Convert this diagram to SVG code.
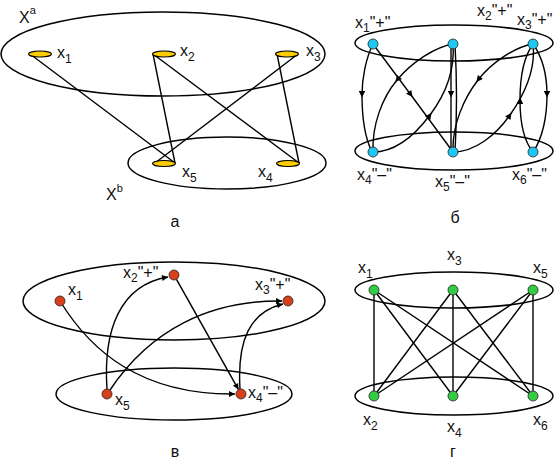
<svg xmlns="http://www.w3.org/2000/svg" width="560" height="461" viewBox="0 0 560 461">
<style>
.t{font-family:"Liberation Sans",Arial,sans-serif;font-size:16px;fill:#111}
.s{font-size:12px}
.sup{font-size:11px}
.set{fill:none;stroke:#000;stroke-width:1.5}
.e{fill:none;stroke:#000;stroke-width:1.4}
.ny{fill:#FFCC00;stroke:#000;stroke-width:1.1}
.nb{fill:#1EC8F5;stroke:#222;stroke-width:0.8}
.nr{fill:#D8401C;stroke:#222;stroke-width:0.8}
.ng{fill:#33CC44;stroke:#222;stroke-width:0.8}
</style>
<defs>
<marker id="ae" viewBox="0 0 10 10" refX="10" refY="5" markerWidth="9" markerHeight="6" markerUnits="userSpaceOnUse" orient="auto"><path d="M0,0 L10,5 L0,10 z" fill="#000"/></marker>
<marker id="am" viewBox="0 0 10 10" refX="6" refY="5" markerWidth="9" markerHeight="6.5" markerUnits="userSpaceOnUse" orient="auto"><path d="M0,0 L10,5 L0,10 z" fill="#000"/></marker>
</defs>

<!-- Panel a -->
<g id="panel-a">
<ellipse id="set-Xa" class="set" cx="163" cy="54" rx="162" ry="42"/>
<ellipse id="set-Xb" class="set" cx="227" cy="163" rx="99" ry="26"/>
<g id="connectors-a">
<line class="e" x1="30" y1="54" x2="175" y2="163"/>
<line class="e" x1="153" y1="54" x2="175" y2="163"/>
<line class="e" x1="153" y1="54" x2="299" y2="163"/>
<line class="e" x1="298" y1="54" x2="155" y2="163"/>
<line class="e" x1="277" y1="54" x2="299" y2="163"/>
</g>
<g id="a-x1"><ellipse class="ny" cx="40" cy="54" rx="11.5" ry="3"/><text class="t" x="57" y="58">x<tspan class="s" dy="5">1</tspan></text></g>
<g id="a-x2"><ellipse class="ny" cx="164" cy="54" rx="11.5" ry="3"/><text class="t" x="180" y="56">x<tspan class="s" dy="5">2</tspan></text></g>
<g id="a-x3"><ellipse class="ny" cx="287" cy="54" rx="11.5" ry="3"/><text class="t" x="306" y="56">x<tspan class="s" dy="5">3</tspan></text></g>
<g id="a-x5"><ellipse class="ny" cx="164" cy="163.5" rx="11.5" ry="3"/><text class="t" x="182" y="177">x<tspan class="s" dy="5">5</tspan></text></g>
<g id="a-x4"><ellipse class="ny" cx="288" cy="163.5" rx="11.5" ry="3"/><text class="t" x="258" y="177">x<tspan class="s" dy="5">4</tspan></text></g>
<text class="t" x="19" y="23">X<tspan class="sup" dy="-9">a</tspan></text>
<text class="t" x="106" y="200">X<tspan class="sup" dy="-8">b</tspan></text>
<text class="t" x="175" y="227" text-anchor="middle">а</text>
</g>

<!-- Panel b -->
<g id="panel-b">
<ellipse class="set" cx="454" cy="43" rx="99" ry="18"/>
<ellipse class="set" cx="454" cy="151" rx="99" ry="19"/>
<g id="connectors-b">
<path class="e" marker-mid="url(#am)" d="M373,44 C366,58 362,78 362,95 C362,115 365,138 372,152"/>
<path class="e" marker-mid="url(#am)" d="M373,44 L411,95 L453,152"/>
<path class="e" marker-mid="url(#am)" d="M453,44 C435,47 412,62 397,80 C382,98 372,125 373,152"/>
<path class="e" marker-mid="url(#am)" d="M373,152 C395,152 415,135 430,115 C445,95 455,70 453,44"/>
<path class="e" marker-mid="url(#am)" d="M451,44 L451,95 L451,152"/>
<path class="e" d="M455,44 Q458,98 455,152"/>
<path class="e" marker-mid="url(#am)" d="M533,44 C515,47 492,62 478,80 C464,98 452,125 453,152"/>
<path class="e" marker-mid="url(#am)" d="M453,152 C475,152 496,135 510,115 C524,95 536,70 533,44"/>
<path class="e" marker-mid="url(#am)" d="M533,152 C523,140 520,120 520,100 C520,80 523,58 533,44"/>
<path class="e" marker-mid="url(#am)" d="M533,44 C543,58 547,78 547,95 C547,115 543,138 533,152"/>
</g>
<g id="b-x1"><circle class="nb" cx="373" cy="44" r="5"/><text class="t" x="355" y="28">x<tspan class="s" dy="4">1</tspan><tspan dy="-4">"+"</tspan></text></g>
<g id="b-x2"><circle class="nb" cx="453" cy="44" r="5"/><text class="t" x="477" y="16">x<tspan class="s" dy="4">2</tspan><tspan dy="-4">"+"</tspan></text></g>
<g id="b-x3"><circle class="nb" cx="533" cy="44" r="5"/><text class="t" x="517" y="25">x<tspan class="s" dy="4">3</tspan><tspan dy="-4">"+"</tspan></text></g>
<g id="b-x4"><circle class="nb" cx="373" cy="152" r="5"/><text class="t" x="357" y="180">x<tspan class="s" dy="4">4</tspan><tspan dy="-4">"–"</tspan></text></g>
<g id="b-x5"><circle class="nb" cx="453" cy="152" r="5"/><text class="t" x="435" y="187">x<tspan class="s" dy="4">5</tspan><tspan dy="-4">"–"</tspan></text></g>
<g id="b-x6"><circle class="nb" cx="533" cy="152" r="5"/><text class="t" x="512" y="180">x<tspan class="s" dy="4">6</tspan><tspan dy="-4">"–"</tspan></text></g>
<text class="t" x="455" y="223" text-anchor="middle">б</text>
</g>

<!-- Panel v -->
<g id="panel-v">
<ellipse class="set" cx="174" cy="301" rx="151" ry="39"/>
<ellipse class="set" cx="174" cy="394" rx="118" ry="26"/>
<g id="connectors-v">
<path class="e" marker-end="url(#ae)" d="M60,301 C90,350 140,395 235,394"/>
<path class="e" marker-end="url(#ae)" d="M107,389 C103,330 120,285 168,277"/>
<path class="e" marker-end="url(#ae)" d="M110,390 C150,330 210,300 282,301"/>
<path class="e" marker-end="url(#ae)" d="M176.5,279.4 L238.5,389.6"/>
<path class="e" marker-end="url(#ae)" d="M240,389 C237,340 250,312 283,304"/>
</g>
<g id="v-x1"><circle class="nr" cx="60" cy="301" r="5"/><text class="t" x="68" y="295">x<tspan class="s" dy="5">1</tspan></text></g>
<g id="v-x2"><circle class="nr" cx="174" cy="275" r="5"/><text class="t" x="123" y="278">x<tspan class="s" dy="4">2</tspan><tspan dy="-4">"+"</tspan></text></g>
<g id="v-x3"><circle class="nr" cx="288" cy="301" r="5"/><text class="t" x="255" y="290">x<tspan class="s" dy="4">3</tspan><tspan dy="-4">"+"</tspan></text></g>
<g id="v-x5"><circle class="nr" cx="107" cy="394" r="5"/><text class="t" x="115" y="405">x<tspan class="s" dy="5">5</tspan></text></g>
<g id="v-x4"><circle class="nr" cx="241" cy="394" r="5"/><text class="t" x="248" y="398">x<tspan class="s" dy="4">4</tspan><tspan dy="-4">"–"</tspan></text></g>
<text class="t" x="175" y="457" text-anchor="middle">в</text>
</g>

<!-- Panel g -->
<g id="panel-g">
<ellipse class="set" cx="454" cy="290" rx="99" ry="18"/>
<ellipse class="set" cx="454" cy="396" rx="99" ry="19"/>
<g id="connectors-g">
<line class="e" x1="374" y1="290" x2="374" y2="396"/>
<line class="e" x1="374" y1="290" x2="453" y2="396"/>
<line class="e" x1="374" y1="290" x2="533" y2="396"/>
<line class="e" x1="453" y1="290" x2="374" y2="396"/>
<line class="e" x1="453" y1="290" x2="453" y2="396"/>
<line class="e" x1="453" y1="290" x2="533" y2="396"/>
<line class="e" x1="533" y1="290" x2="374" y2="396"/>
<line class="e" x1="533" y1="290" x2="453" y2="396"/>
<line class="e" x1="533" y1="290" x2="533" y2="396"/>
</g>
<g id="g-x1"><circle class="ng" cx="374" cy="290" r="5"/><text class="t" x="358" y="273">x<tspan class="s" dy="5">1</tspan></text></g>
<g id="g-x3"><circle class="ng" cx="453" cy="290" r="5"/><text class="t" x="447" y="260">x<tspan class="s" dy="5">3</tspan></text></g>
<g id="g-x5"><circle class="ng" cx="533" cy="290" r="5"/><text class="t" x="533" y="273">x<tspan class="s" dy="5">5</tspan></text></g>
<g id="g-x2"><circle class="ng" cx="374" cy="396" r="5"/><text class="t" x="363" y="425">x<tspan class="s" dy="5">2</tspan></text></g>
<g id="g-x4"><circle class="ng" cx="453" cy="396" r="5"/><text class="t" x="447" y="432">x<tspan class="s" dy="5">4</tspan></text></g>
<g id="g-x6"><circle class="ng" cx="533" cy="396" r="5"/><text class="t" x="533" y="425">x<tspan class="s" dy="5">6</tspan></text></g>
<text class="t" x="453" y="457" text-anchor="middle">г</text>
</g>
</svg>
